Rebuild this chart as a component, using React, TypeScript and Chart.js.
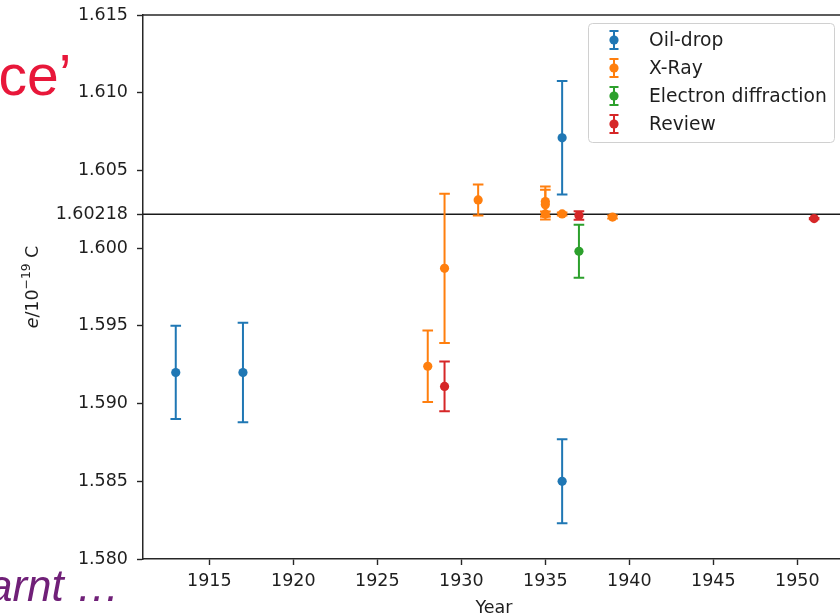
import React, { useEffect, useRef } from 'react';
import { Chart, registerables } from 'chart.js';

Chart.register(...registerables);

// ---------------- data ----------------
const seriesNames = ['Oil-drop', 'X-Ray', 'Electron diffraction', 'Review'];
const seriesColors = ['#1f77b4', '#ff7f0e', '#2ca02c', '#d62728'];

const oilYears = [1913, 1917, 1936, 1936];
const oilValues = [1.592, 1.592, 1.6071, 1.585];
const oilErrors = [0.003, 0.0032, 0.00365, 0.0027];

const xrayYears = [1928, 1929, 1931, 1935, 1935, 1935, 1936, 1939];
const xrayValues = [1.5924, 1.5987, 1.6031, 1.603, 1.6028, 1.6022, 1.6022, 1.602];
const xrayErrors = [0.0023, 0.0048, 0.001, 0.00096, 0.00095, 0.00016, 0.0001, 0.0001];

const edYears = [1937];
const edValues = [1.5998];
const edErrors = [0.0017];

const reviewYears = [1929, 1937, 1951];
const reviewValues = [1.5911, 1.6021, 1.6019];
const reviewErrors = [0.0016, 0.00028, 0.00004];

const referenceValue = 1.60218;

const xMin = 1911.05;
const xMax = 1952.54;
const xTicks = [1915, 1920, 1925, 1930, 1935, 1940, 1945, 1950];

const yMin = 1.58;
const yMax = 1.615;
const yTicks = [1.58, 1.585, 1.59, 1.595, 1.6, 1.60218, 1.605, 1.61, 1.615];
const yTickLabels = ['1.580', '1.585', '1.590', '1.595', '1.600', '1.60218', '1.605', '1.610', '1.615'];

const xTitle = 'Year';
const slideTextTop = 'ce\u2019';
const slideTextBottom = 'arnt \u2026';

const seriesList = [
  { name: seriesNames[0], color: seriesColors[0], years: oilYears, values: oilValues, errors: oilErrors },
  { name: seriesNames[1], color: seriesColors[1], years: xrayYears, values: xrayValues, errors: xrayErrors },
  { name: seriesNames[2], color: seriesColors[2], years: edYears, values: edValues, errors: edErrors },
  { name: seriesNames[3], color: seriesColors[3], years: reviewYears, values: reviewValues, errors: reviewErrors },
];

const FONT = "'DejaVu Sans', sans-serif";
const TEXT = '#1e1e1e';
const CAP_HALF = 5.3;

const zeroPadding = (scale: any) => {
  scale.paddingTop = 0;
  scale.paddingBottom = 0;
  scale.paddingLeft = 0;
  scale.paddingRight = 0;
};

const overlayPlugin = {
  id: 'overlay',
  beforeDatasetsDraw(chart: any) {
    const { ctx, chartArea, scales } = chart;
    const x = scales.x;
    const y = scales.y;
    ctx.save();
    ctx.beginPath();
    ctx.rect(chartArea.left, chartArea.top - 10, chartArea.right - chartArea.left, chartArea.bottom - chartArea.top + 10);
    ctx.clip();
    // reference line
    const ry = y.getPixelForValue(referenceValue);
    ctx.strokeStyle = '#1a1a1a';
    ctx.lineWidth = 1.5;
    ctx.beginPath();
    ctx.moveTo(chartArea.left, ry);
    ctx.lineTo(chartArea.right, ry);
    ctx.stroke();
    // error bars
    ctx.lineWidth = 2;
    ctx.lineCap = 'butt';
    seriesList.forEach((s) => {
      ctx.strokeStyle = s.color;
      s.years.forEach((yr, i) => {
        const px = x.getPixelForValue(yr);
        const top = y.getPixelForValue(s.values[i] + s.errors[i]);
        const bot = y.getPixelForValue(s.values[i] - s.errors[i]);
        ctx.beginPath();
        ctx.moveTo(px, top);
        ctx.lineTo(px, bot);
        ctx.moveTo(px - CAP_HALF, top);
        ctx.lineTo(px + CAP_HALF, top);
        ctx.moveTo(px - CAP_HALF, bot);
        ctx.lineTo(px + CAP_HALF, bot);
        ctx.stroke();
      });
    });
    ctx.restore();
  },
  afterDraw(chart: any) {
    const { ctx, chartArea } = chart;
    ctx.save();
    // top spine
    ctx.strokeStyle = '#262626';
    ctx.lineWidth = 1.5;
    ctx.beginPath();
    ctx.moveTo(chartArea.left, chartArea.top);
    ctx.lineTo(chartArea.right, chartArea.top);
    ctx.stroke();

    // y axis title: e/10^{-19} C
    ctx.save();
    ctx.translate(37.5, (chartArea.top + chartArea.bottom) / 2);
    ctx.rotate(-Math.PI / 2);
    ctx.fillStyle = TEXT;
    ctx.textBaseline = 'alphabetic';
    ctx.textAlign = 'left';
    const parts = [
      { t: 'e', f: `oblique 17.5px ${FONT}`, dy: 0 },
      { t: '/10', f: `17.5px ${FONT}`, dy: 0 },
      { t: '\u221219', f: `12.3px ${FONT}`, dy: -8 },
      { t: ' C', f: `17.5px ${FONT}`, dy: 0 },
    ];
    let total = 0;
    parts.forEach((p) => {
      ctx.font = p.f;
      total += ctx.measureText(p.t).width;
    });
    let cx = -total / 2;
    parts.forEach((p) => {
      ctx.font = p.f;
      ctx.fillText(p.t, cx, p.dy);
      cx += ctx.measureText(p.t).width;
    });
    ctx.restore();

    // x axis title
    ctx.font = `17.5px ${FONT}`;
    ctx.fillStyle = TEXT;
    ctx.textAlign = 'center';
    ctx.textBaseline = 'alphabetic';
    ctx.fillText(xTitle, 494, 612.5);

    // legend
    const lx = 588.5, ly = 23.5, lw = 246, lh = 119;
    ctx.beginPath();
    ctx.roundRect(lx, ly, lw, lh, 4);
    ctx.fillStyle = 'rgba(255,255,255,0.85)';
    ctx.fill();
    ctx.strokeStyle = '#d0d0d0';
    ctx.lineWidth = 1;
    ctx.stroke();
    const rows = [40, 68, 96, 124];
    seriesList.forEach((s, i) => {
      const cy = rows[i];
      const hx = 614;
      ctx.strokeStyle = s.color;
      ctx.lineWidth = 2;
      ctx.beginPath();
      ctx.moveTo(hx, cy - 9);
      ctx.lineTo(hx, cy + 9);
      ctx.moveTo(hx - 4.5, cy - 9);
      ctx.lineTo(hx + 4.5, cy - 9);
      ctx.moveTo(hx - 4.5, cy + 9);
      ctx.lineTo(hx + 4.5, cy + 9);
      ctx.stroke();
      ctx.fillStyle = s.color;
      ctx.beginPath();
      ctx.arc(hx, cy, 4.6, 0, Math.PI * 2);
      ctx.fill();
      ctx.fillStyle = TEXT;
      ctx.font = `18.7px ${FONT}`;
      ctx.textAlign = 'left';
      ctx.textBaseline = 'alphabetic';
      ctx.fillText(s.name, 649, cy + 6.3);
    });

    // slide text fragments
    ctx.textAlign = 'left';
    ctx.textBaseline = 'alphabetic';
    ctx.fillStyle = '#e8173a';
    ctx.font = "57px 'Liberation Sans', Arial, sans-serif";
    ctx.fillText(slideTextTop, -1.5, 95);
    ctx.fillStyle = '#702078';
    ctx.font = "italic 44px 'Liberation Sans', Arial, sans-serif";
    ctx.fillText(slideTextBottom, -12, 601);
    ctx.restore();
  },
};

export default function App() {
  const canvasRef = useRef<HTMLCanvasElement | null>(null);

  useEffect(() => {
    const canvas = canvasRef.current;
    if (!canvas) return;
    Chart.defaults.font.family = FONT;
    const datasets = seriesList.map((s, idx) => ({
      label: s.name,
      data: s.years.map((yr, i) => ({ x: yr, y: s.values[i] })),
      backgroundColor: s.color,
      borderColor: s.color,
      pointBackgroundColor: s.color,
      pointBorderWidth: 0,
      pointRadius: 4.6,
      pointHoverRadius: 4.6,
      showLine: false,
      order: seriesList.length - idx,
    }));

    const chart = new Chart(canvas, {
      type: 'scatter',
      data: { datasets },
      plugins: [overlayPlugin],
      options: {
        responsive: false,
        animation: false,
        devicePixelRatio: 1,
        layout: { autoPadding: false, padding: { top: 15, right: 0, left: 0, bottom: 0 } },
        plugins: {
          legend: { display: false },
          tooltip: { enabled: false },
        },
        scales: {
          x: {
            type: 'linear',
            min: xMin,
            max: xMax,
            afterFit: (scale: any) => {
              scale.height = 57;
              zeroPadding(scale);
            },
            afterBuildTicks: (scale: any) => {
              scale.ticks = xTicks.map((v) => ({ value: v }));
            },
            ticks: {
              autoSkip: false,
              maxRotation: 0,
              padding: 6,
              color: TEXT,
              font: { size: 17.5, family: FONT },
              callback: (v: any) => String(v),
            },
            grid: { drawOnChartArea: false, drawTicks: true, tickLength: 6, tickWidth: 1.4, tickColor: '#262626' },
            border: { display: true, color: '#262626', width: 1.5 },
          },
          y: {
            type: 'linear',
            min: yMin,
            max: yMax,
            afterFit: (scale: any) => {
              scale.width = 143;
              zeroPadding(scale);
            },
            afterBuildTicks: (scale: any) => {
              scale.ticks = yTicks.map((v) => ({ value: v }));
            },
            ticks: {
              autoSkip: false,
              padding: 9,
              color: TEXT,
              font: { size: 17.5, family: FONT },
              callback: (_v: any, i: number) => yTickLabels[i],
            },
            grid: { drawOnChartArea: false, drawTicks: true, tickLength: 6, tickWidth: 1.4, tickColor: '#262626' },
            border: { display: true, color: '#262626', width: 1.5 },
          },
        },
      },
    } as any);
    return () => chart.destroy();
  }, []);

  return (
    <div style={{ position: 'fixed', left: 0, top: 0, width: 840, height: 616, background: '#ffffff', overflow: 'hidden' }}>
      <canvas ref={canvasRef} width={840} height={616} style={{ display: 'block', width: 840, height: 616 }} />
    </div>
  );
}
